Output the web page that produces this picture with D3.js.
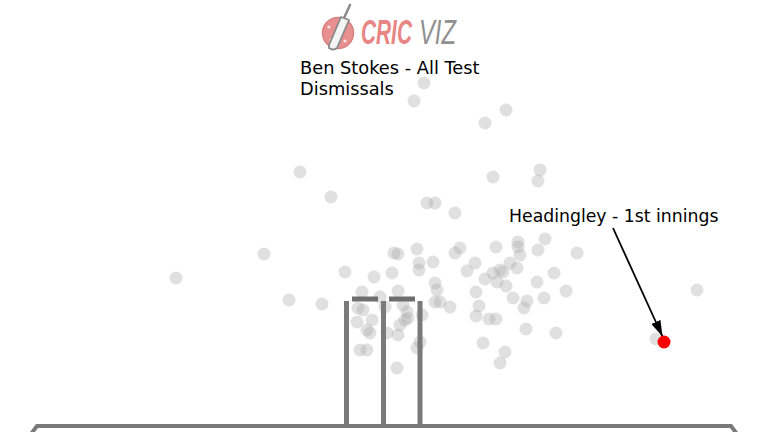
<!DOCTYPE html>
<html>
<head>
<meta charset="utf-8">
<script src="https://cdn.jsdelivr.net/npm/d3@7"></script>
<style>
  html, body { margin: 0; padding: 0; background: #ffffff; }
  svg { display: block; }
</style>
</head>
<body>
<div id="chart"></div>
<script>
// ---- Data (x: offset from middle stump, y: height above ground) ----
const dismissalX = [41, 31, 123, 102, -83, -52, 157, 155, 110, 44,
  52, 72, -119, -207, -94, -61, -38, 314, 273, 11,
  15, 34, -9, 9, 36, 36, 50, 52, 54, 52,
  57, -21, -3, 15, -25, -20, -26, -11, -16, -13,
  2, 20, 24, 25, 22, 39, 17, 4, 15, 37,
  34, -23, -16, 14, 77, 72, 113, 135, 135, 137,
  162, 155, 194, 92, 84, 117, 110, 120, 127, 134,
  102, 114, 123, 154, 171, 183, 93, 130, 144, 141,
  161, 67, 96, 93, 106, 113, 143, 173, 100, 122, 117];
const dismissalY = [342, 324, 315, 302, 253, 228, 255, 244, 248, 222,
  222, 212, 171, 147, 125, 121, 153, 135, 86, 172,
  171, 176, 148, 152, 162, 155, 163, 142, 135, 123,
  123, 133, 128, 134, 117, 115, 103, 105, 95, 92,
  118, 120, 113, 107, 105, 110, 100, 92, 90, 83,
  77, 75, 75, 57, 177, 172, 178, 183, 178, 170,
  186, 175, 172, 162, 154, 155, 152, 153, 162, 157,
  146, 143, 139, 143, 152, 134, 133, 127, 124, 117,
  127, 118, 119, 109, 106, 106, 96, 92, 82, 73, 62];
const highlightX = [281];
const highlightY = [83];
const highlightLabel = "Headingley - 1st innings";
const titleLines = ["Ben Stokes - All Test", "Dismissals"];
const logoParts = ["CRIC", "VIZ"];
const stumpX = [-36.5, 0.5, 37];
const stumpHeight = 124;
const bailX = [[-31, -5], [6, 32]];
const bailHeight = 126;

// ---- Setup ----
const W = 768, H = 432;
const svg = d3.select("#chart").append("svg").attr("width", W).attr("height", H);

const groundY = 425;
const x = d3.scaleLinear().domain([-383, 385]).range([0, 768]);
const y = d3.scaleLinear().domain([0, 425]).range([groundY, 0]);

// ---- Logo ----
const logo = svg.append("g");
logo.append("circle").attr("cx", 338).attr("cy", 33).attr("r", 15.5)
  .attr("fill", "#e89090").attr("stroke", "#d98080").attr("stroke-width", 1.5);
[[329,27],[345,41],[331,40]].forEach(p => logo.append("circle").attr("cx", p[0]).attr("cy", p[1]).attr("r", 1.6).attr("fill", "#fbe3e3"));
logo.append("line").attr("x1", 350).attr("y1", 5).attr("x2", 344).attr("y2", 18)
  .attr("stroke", "#8a8a8a").attr("stroke-width", 2.5).attr("stroke-linecap", "round");
logo.append("path").attr("d", "M341,17 L349,20 L337,48 Q333,51 329,48 L329,45 Z")
  .attr("fill", "#f4f4f4").attr("stroke", "#8a8a8a").attr("stroke-width", 1.8).attr("stroke-linejoin", "round");

function logoWord(txt, x0, width, bold, color) {
  const t = logo.append("text").attr("x", 0).attr("y", 0)
    .attr("font-family", "'Liberation Sans', Arial, sans-serif")
    .attr("font-style", "italic").attr("font-weight", bold ? "bold" : "normal")
    .attr("font-size", 35).attr("fill", color).text(txt);
  const nat = t.node().getComputedTextLength() || width;
  t.attr("transform", `translate(${x0},44) scale(${width / nat},1)`);
}
logoWord(logoParts[0], 361, 51, true, "#e88585");
logoWord(logoParts[1], 419, 37, false, "#8f8f8f");

// ---- Title ----
const title = svg.append("text").attr("x", 300).attr("y", 74)
  .attr("font-family", "'DejaVu Sans', Verdana, sans-serif").attr("font-size", 17.8).attr("fill", "#000");
titleLines.forEach((t, i) => title.append("tspan").attr("x", 300).attr("dy", i === 0 ? 0 : 21).text(t));

// ---- Dismissal points ----
const pts = dismissalX.map((d, i) => ({ x: d, y: dismissalY[i] }));
svg.append("g").selectAll("circle").data(pts).join("circle")
  .attr("cx", d => x(d.x)).attr("cy", d => y(d.y)).attr("r", 6.5)
  .attr("fill", "#a8a8a8").attr("fill-opacity", 0.36);

// ---- Ground line ----
const gx0 = x(-346), gx1 = x(348);
svg.append("path")
  .attr("d", `M${gx0 - 6},${H + 2} L${gx0},${groundY + 1} L${gx1},${groundY + 1} L${gx1 + 6},${H + 2}`)
  .attr("fill", "none").attr("stroke", "#7a7a7a").attr("stroke-width", 4).attr("stroke-linejoin", "miter");

// ---- Stumps ----
svg.append("g").selectAll("rect").data(stumpX).join("rect")
  .attr("x", d => x(d) - 2.5).attr("y", y(stumpHeight)).attr("width", 5)
  .attr("height", y(0) - y(stumpHeight))
  .attr("fill", "#7a7a7a");
svg.append("g").selectAll("rect").data(bailX).join("rect")
  .attr("x", d => x(d[0])).attr("y", y(bailHeight) - 2.5).attr("width", d => x(d[1]) - x(d[0]))
  .attr("height", 5).attr("fill", "#6e6e6e");

// ---- Highlight ----
const hx = x(highlightX[0]), hy = y(highlightY[0]);
svg.append("defs").append("marker").attr("id", "arrow")
  .attr("viewBox", "0 0 16 10").attr("refX", 16).attr("refY", 5)
  .attr("markerWidth", 16).attr("markerHeight", 10).attr("markerUnits", "userSpaceOnUse")
  .attr("orient", "auto")
  .append("path").attr("d", "M0,0 L16,5 L0,10 Z").attr("fill", "#000");
svg.append("line").attr("x1", 613).attr("y1", 228).attr("x2", hx - 1.5).attr("y2", hy - 5.5)
  .attr("stroke", "#000").attr("stroke-width", 1.8).attr("marker-end", "url(#arrow)");
svg.append("circle").attr("cx", hx).attr("cy", hy).attr("r", 6.5).attr("fill", "#ff0000");
svg.append("text").attr("x", 509).attr("y", 222)
  .attr("font-family", "'DejaVu Sans', Verdana, sans-serif").attr("font-size", 17.3).attr("fill", "#000")
  .text(highlightLabel);
</script>
</body>
</html>
